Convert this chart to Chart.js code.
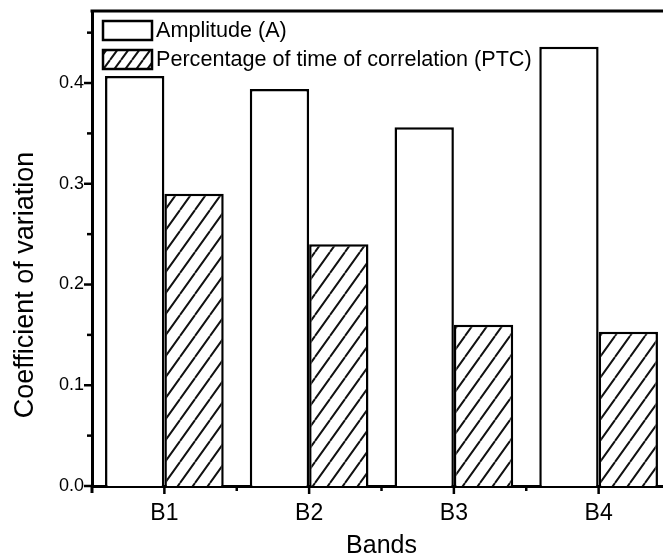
<!DOCTYPE html>
<html><head><meta charset="utf-8">
<script src="https://cdn.jsdelivr.net/npm/chart.js@4"></script>
<style>
html,body{margin:0;padding:0;background:#fff;overflow:hidden;width:663px;height:559px}
#wrap{position:relative;width:680px;height:559px}
</style>
</head><body><div id="wrap"><canvas id="c" width="680" height="559"></canvas></div>
<script>
const categories = ['B1', 'B2', 'B3', 'B4'];
const amplitude = [0.407, 0.394, 0.356, 0.436];
const ptc = [0.290, 0.240, 0.160, 0.153];
const seriesLabels = ['Amplitude (A)', 'Percentage of time of correlation (PTC)'];
const yTickValues = [0.0, 0.1, 0.2, 0.3, 0.4];
const xTitle = 'Bands';
const yTitle = 'Coefficient of variation';

const FONT = "'Liberation Sans', Arial, sans-serif";

function makeHatch(w, h) {
  const c = document.createElement('canvas');
  c.width = w; c.height = h;
  const x = c.getContext('2d');
  x.fillStyle = '#fff'; x.fillRect(0, 0, w, h);
  x.strokeStyle = '#111'; x.lineWidth = 2;
  x.beginPath();
  x.moveTo(0, h); x.lineTo(w, 0);
  x.moveTo(-w, h); x.lineTo(0, 0);
  x.moveTo(w, h); x.lineTo(2 * w, 0);
  x.stroke();
  return document.getElementById('c').getContext('2d').createPattern(c, 'repeat');
}
const hatch = makeHatch(15, 21);
const hatchSmall = makeHatch(11, 15);

const framePlugin = {
  id: 'frame',
  afterDraw(chart) {
    const { ctx, chartArea: a, scales: { x, y } } = chart;
    ctx.save();
    ctx.strokeStyle = '#000';
    const line = (x1, y1, x2, y2, w) => { ctx.lineWidth = w; ctx.beginPath(); ctx.moveTo(x1, y1); ctx.lineTo(x2, y2); ctx.stroke(); };
    line(a.left - 1.5, a.top, a.right, a.top, 3);
    for (let k = 0; k <= 9; k++) {
      const py = y.getPixelForValue(k * 0.05);
      const len = (k % 2 === 0) ? 8 : 5;
      line(a.left - len, py, a.left, py, 2.5);
    }
    line(a.left, a.bottom, a.left, a.bottom + 7, 3);
    categories.forEach((c, i) => {
      const px = x.getPixelForValue(i);
      line(px, a.bottom, px, a.bottom + 8, 2.5);
    });
    for (let i = 1; i < categories.length; i++) {
      const px = x.getPixelForValue(i - 0.5);
      line(px, a.bottom, px, a.bottom + 5, 2.5);
    }
    ctx.fillStyle = '#000';
    ctx.font = '27px ' + FONT;
    ctx.textAlign = 'center';
    ctx.textBaseline = 'middle';
    ctx.translate(26, 285);
    ctx.rotate(-Math.PI / 2);
    ctx.fillText(yTitle, 0, 0);
    ctx.restore();

    ctx.save();
    const fills = ['#fff', hatchSmall];
    const boxes = [21, 50];
    chart.data.datasets.forEach((ds, i) => {
      const top = boxes[i];
      ctx.fillStyle = fills[i];
      ctx.fillRect(103, top, 49, 19);
      ctx.strokeStyle = '#000'; ctx.lineWidth = 2.5;
      ctx.strokeRect(103, top, 49, 19);
      ctx.fillStyle = '#000';
      ctx.font = '21.6px ' + FONT;
      ctx.textAlign = 'left'; ctx.textBaseline = 'middle';
      ctx.fillText(ds.label, 156, top + 10);
    });
    ctx.restore();
  }
};

new Chart(document.getElementById('c'), {
  type: 'bar',
  data: {
    labels: categories,
    datasets: [
      { label: seriesLabels[0], data: amplitude, backgroundColor: '#fff', borderColor: '#000', borderWidth: 2.5 },
      { label: seriesLabels[1], data: ptc, backgroundColor: hatch, borderColor: '#000', borderWidth: 2.5 }
    ]
  },
  options: {
    responsive: false,
    animation: false,
    devicePixelRatio: 1,
    layout: { padding: { top: 11, right: 9, left: 0, bottom: 0 } },
    plugins: { legend: { display: false }, tooltip: { enabled: false } },
    datasets: { bar: { categoryPercentage: 0.82, barPercentage: 1 } },
    scales: {
      x: {
        grid: { display: false, drawTicks: false },
        border: { display: true, color: '#000', width: 3 },
        ticks: { color: '#000', font: { family: FONT, size: 23 }, padding: 14 },
        title: { display: true, text: xTitle, color: '#000', font: { family: FONT, size: 25, lineHeight: 1.0 }, padding: { top: 0, bottom: 0 } },
        afterFit(s) { s.height = 73; s.paddingLeft = 0; s.paddingRight = 0; }
      },
      y: {
        min: 0, max: 0.4715,
        afterBuildTicks(s) { s.ticks = yTickValues.map(v => ({ value: v })); },
        grid: { display: false, drawTicks: false },
        border: { display: true, color: '#000', width: 3 },
        ticks: { color: '#000', font: { family: FONT, size: 18 }, padding: 8, callback: v => Number(v).toFixed(1) },
        afterFit(s) { s.width = 92; s.paddingTop = 0; s.paddingBottom = 0; }
      }
    }
  },
  plugins: [framePlugin]
});
</script>
</body></html>
